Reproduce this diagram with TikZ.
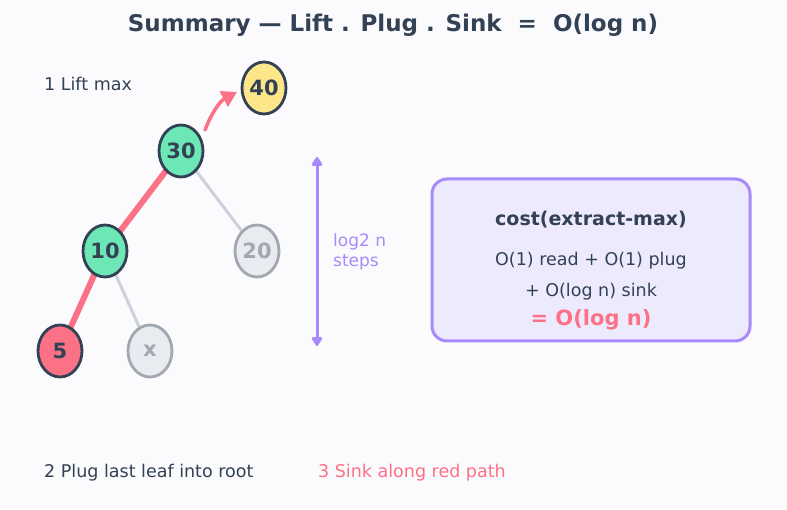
\documentclass[tikz,border=0pt]{standalone}
\usepackage{fontspec}
\setmainfont{DejaVu Sans}
\usetikzlibrary{shapes.geometric,arrows.meta}
\definecolor{bg}{HTML}{FBFBFE}
\definecolor{ink}{HTML}{334155}
\definecolor{rose}{HTML}{FB7185}
\definecolor{mint}{HTML}{6EE7B7}
\definecolor{sun}{HTML}{FDE68A}
\definecolor{ghostfill}{HTML}{E8EBF0}
\definecolor{ghostline}{HTML}{A3A8B0}
\definecolor{edgegray}{HTML}{CBD2DB}
\definecolor{violet}{HTML}{A78BFA}
\definecolor{lav}{HTML}{EEEAFD}
\tikzset{
  hnode/.style={ellipse, draw=ink, line width=2.8pt, minimum width=44pt, minimum height=52pt, inner sep=0pt, font=\fontsize{21}{24}\selectfont\bfseries, text=ink},
  ghost/.style={hnode, draw=ghostline, fill=ghostfill, text=ghostline},
  redge/.style={draw=rose, line width=6pt},
  gedge/.style={draw=edgegray, line width=3pt},
  lbl/.style={font=\fontsize{17.5}{20}\selectfont, text=ink, anchor=west, inner sep=0pt},
}
\begin{document}
\begin{tikzpicture}[x=1pt,y=-1pt]
\fill[bg] (0,0) rectangle (787,510);
\useasboundingbox (0,0) rectangle (787,510);
\node[font=\fontsize{23}{26}\selectfont\bfseries, text=ink] (title) at (393,25) {Summary — Lift . Plug . Sink \ = \ O(log n)};
\node[lbl] (lift) at (44,84) {1 Lift max};
\node[lbl] (plug) at (44,473) {2 Plug last leaf into root};
\node[lbl, text=rose] (sink) at (318,473) {3 Sink along red path};
% edges (behind)
\coordinate (p30) at (181,151);
\coordinate (p10) at (105,251);
\coordinate (p20) at (257,251);
\coordinate (p5) at (60,351);
\coordinate (px) at (150,351);
\path[gedge] (p30) -- (p20);
\path[gedge] (p10) -- (px);
\path[redge] (p30) -- (p10);
\path[redge] (p10) -- (p5);
% nodes
\node[hnode, fill=sun] (n40) at (264,88) {40};
\node[hnode, fill=mint] (n30) at (p30) {30};
\node[hnode, fill=mint] (n10) at (p10) {10};
\node[ghost] (n20) at (p20) {20};
\node[hnode, fill=rose] (n5) at (p5) {5};
\node[ghost] (nx) at (px) {x};
% lift arrow
\coordinate (la) at (205,130);
\draw[rose, line width=3.5pt, line cap=round, -{Triangle[length=15pt,width=17pt]}] (la) .. controls (211,114) and (220,101) .. (237,92);
% steps arrow
\coordinate (st) at (317,157);
\coordinate (sb) at (317,346);
\draw[violet, line width=3pt, {Triangle[length=10pt,width=12pt, round]}-{Triangle[length=10pt,width=12pt, round]}] (st) -- (sb);
\node[anchor=west, inner sep=0pt, align=left, text=violet, font=\fontsize{17}{20}\selectfont] (steps) at (333,252) {log2 n\\steps};
% cost box
\draw[violet, fill=lav, line width=3pt, rounded corners=15pt] (432,179) rectangle (750,341);
\node[font=\fontsize{19}{22}\selectfont\bfseries, text=ink] (ct) at (591,220) {cost(extract-max)};
\node[font=\fontsize{17.5}{20}\selectfont, text=ink] (c1) at (591,261) {O(1) read + O(1) plug};
\node[font=\fontsize{17.5}{20}\selectfont, text=ink] (c2) at (591,292) {+ O(log n) sink};
\node[font=\fontsize{21}{24}\selectfont\bfseries, text=rose] (c3) at (591,320) {= O(log n)};
\end{tikzpicture}
\end{document}
